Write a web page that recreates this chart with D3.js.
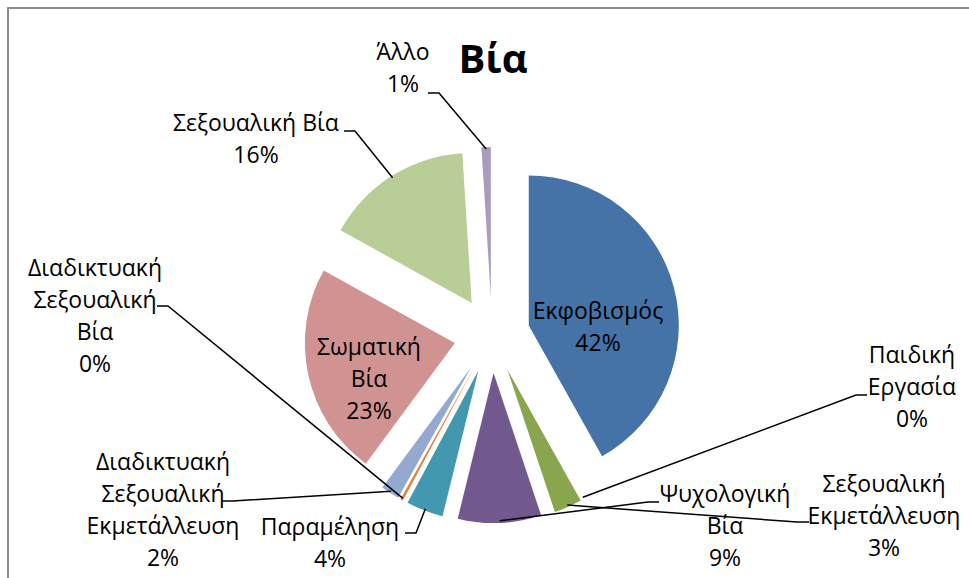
<!DOCTYPE html>
<html>
<head>
<meta charset="utf-8">
<script src="https://cdn.jsdelivr.net/npm/d3@7"></script>
<style>
  body { margin: 0; background: #fff; }
  text { font-family: "Open Sans", "Noto Sans", sans-serif; fill: #000; }
</style>
</head>
<body>
<div id="chart"></div>
<script>
// data
const categories = ["Εκφοβισμός", "Παιδική Εργασία", "Σεξουαλική Εκμετάλλευση", "Ψυχολογική Βία",
  "Παραμέληση", "Διαδικτυακή Σεξουαλική Βία", "Διαδικτυακή Σεξουαλική Εκμετάλλευση",
  "Σωματική Βία", "Σεξουαλική Βία", "Άλλο"];
const values = [42, 0, 3, 9, 4, 0.3, 2, 23, 16, 1];
const colors = ["#4572A7", "#AA4643", "#89A54E", "#71588F", "#4198AF", "#DB843D",
  "#93A9CF", "#D19392", "#B9CD96", "#A99BBD"];

// label layout: words per line, label centre x, first line y, leader stub
const labelLayout = [
  { wrap: [1], x: 598, y: 311, stub: null },
  { wrap: [1, 1], x: 912, y: 355, stub: [[867, 395], [856, 395]] },
  { wrap: [1, 1], x: 884, y: 484, stub: [[809, 522], [797, 522]] },
  { wrap: [1, 1], x: 725, y: 494, stub: [[659, 502], [648, 502]] },
  { wrap: [1], x: 330, y: 527, stub: [[405, 533], [416, 533]] },
  { wrap: [1, 1, 1], x: 95, y: 268, stub: [[157, 306], [168, 306]] },
  { wrap: [1, 1, 1], x: 163, y: 462, stub: [[222, 501], [233, 501]] },
  { wrap: [1, 1], x: 369, y: 347, stub: null },
  { wrap: [2], x: 256, y: 123, stub: [[344, 131], [355, 131]] },
  { wrap: [1], x: 403, y: 52, stub: [[428, 93], [439, 93]] }
];

const w = 969, h = 578;
const cx = 492, cy = 335, R = 150, explode = 38, lineH = 32;

const svg = d3.select('#chart').append('svg')
  .attr('width', w).attr('height', h)
  .style('background-color', '#fff');

// chart frame (cropped at right / bottom)
svg.append('rect')
  .attr('x', 8).attr('y', 8)
  .attr('width', w + 20).attr('height', h + 20)
  .attr('fill', 'none').attr('stroke', '#8c8c8c').attr('stroke-width', 2);

svg.append('text')
  .attr('x', 493).attr('y', 73)
  .attr('text-anchor', 'middle')
  .style('font-size', '40px').style('font-weight', 'bold')
  .text('Βία');

const total = d3.sum(values);
const pct = d3.format('.0%');
const pie = d3.pie().sort(null).value(d => d)(values);
const arc = d3.arc().innerRadius(0).outerRadius(R);

const mid = d => (d.startAngle + d.endAngle) / 2;
const offset = (d, r) => [Math.sin(mid(d)) * r, -Math.cos(mid(d)) * r];

const g = svg.append('g').attr('transform', `translate(${cx},${cy})`);

g.selectAll('path')
  .data(pie)
  .enter()
  .append('path')
  .attr('d', arc)
  .attr('fill', (d, i) => colors[i])
  .attr('transform', d => `translate(${offset(d, explode)})`);

// leader lines
const line = d3.line();
labelLayout.forEach((lay, i) => {
  if (!lay.stub) return;
  const p = offset(pie[i], R + explode - 2);
  svg.append('path')
    .attr('d', line([...lay.stub, [cx + p[0], cy + p[1]]]))
    .attr('fill', 'none')
    .attr('stroke', '#000')
    .attr('stroke-width', 1.5);
});

// labels
labelLayout.forEach((lay, i) => {
  const words = categories[i].split(' ');
  const lines = [];
  let k = 0;
  lay.wrap.forEach(n => { lines.push(words.slice(k, k + n).join(' ')); k += n; });
  if (k < words.length) lines.push(words.slice(k).join(' '));
  lines.push(pct(values[i] / total));
  const t = svg.append('text')
    .attr('text-anchor', 'middle')
    .style('font-size', '23px');
  lines.forEach((s, j) => {
    t.append('tspan')
      .attr('x', lay.x)
      .attr('y', lay.y + j * lineH)
      .attr('dy', '0.35em')
      .text(s);
  });
});
</script>
</body>
</html>
